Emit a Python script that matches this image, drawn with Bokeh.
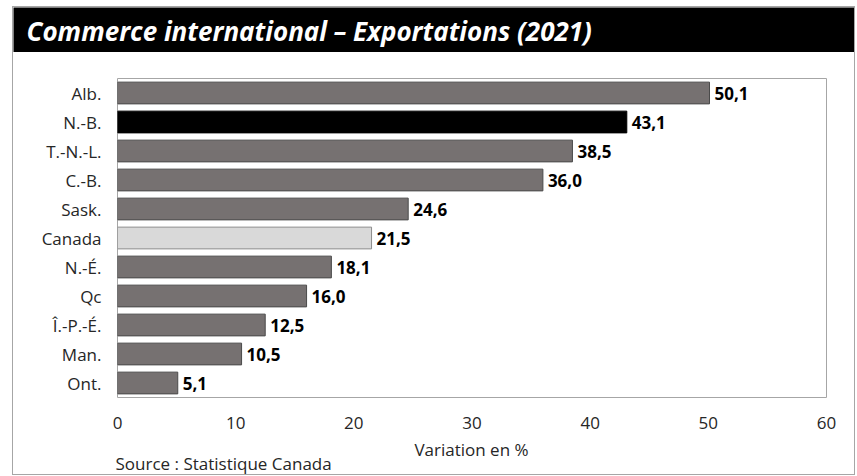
from bokeh.plotting import figure
from bokeh.models import ColumnDataSource, FactorRange, Range1d, Label, FixedTicker
from bokeh.layouts import column
from bokeh.embed import file_html
from bokeh.resources import INLINE
from bokeh.core.properties import value

# ---- data ----
provinces = ["Alb.", "N.-B.", "T.-N.-L.", "C.-B.", "Sask.", "Canada",
             "N.-É.", "Qc", "Î.-P.-É.", "Man.", "Ont."]
variation = [50.1, 43.1, 38.5, 36.0, 24.6, 21.5, 18.1, 16.0, 12.5, 10.5, 5.1]
x_ticks = [0, 10, 20, 30, 40, 50, 60]
title_text = "Commerce international – Exportations (2021)"
x_label = "Variation en %"
source_text = "Source : Statistique Canada"
highlight_dark = "N.-B."
highlight_light = "Canada"

FONT = "Open Sans"
TXT = "#262626"

fills, lines = [], []
for p_ in provinces:
    if p_ == highlight_dark:
        fills.append("#000000"); lines.append("#000000")
    elif p_ == highlight_light:
        fills.append("#d9d9d9"); lines.append("#8c8c8c")
    else:
        fills.append("#767171"); lines.append("#4a4a4a")

labels = [f"{v:.1f}".replace(".", ",") for v in variation]
src = ColumnDataSource(dict(cat=provinces, val=variation, fill=fills, line=lines, lab=labels))

W = 841


def blank(height, bg):
    f = figure(width=W, height=height, x_range=Range1d(0, 1), y_range=Range1d(0, 1),
               toolbar_location=None, output_backend="svg", min_border=0)
    f.frame_align = False
    f.axis.visible = False
    f.grid.visible = False
    f.outline_line_color = None
    f.background_fill_color = bg
    f.border_fill_color = bg
    return f


# ---- title bar ----
tb = blank(45, "black")
tb.add_layout(Label(x=13, y=22, x_units="screen", y_units="screen", text=title_text,
                    text_color="white", text_font=FONT, text_font_style="bold italic",
                    text_font_size="26px", text_baseline="middle"))

# ---- main chart ----
p = figure(width=W, height=387, y_range=FactorRange(factors=list(reversed(provinces))),
           x_range=Range1d(0, 60), toolbar_location=None, output_backend="svg",
           min_border_left=104, min_border_right=28, min_border_top=26, min_border_bottom=42)
p.frame_align = False
p.hbar(y="cat", right="val", left=0, height=0.75, source=src,
       fill_color="fill", line_color="line", line_width=1)
p.text(x="val", y="cat", text="lab", source=src, x_offset=5,
       text_font=value(FONT), text_font_style="bold", text_font_size="17px",
       text_baseline="middle", text_color="black")

p.grid.visible = False
p.outline_line_color = "#a6a6a6"
p.background_fill_color = "white"
p.border_fill_color = "white"

for ax in (p.xaxis[0], p.yaxis[0]):
    ax.axis_line_color = None
    ax.major_tick_line_color = None
    ax.minor_tick_line_color = None
    ax.major_tick_out = 0
    ax.major_tick_in = 0
    ax.minor_tick_out = 0
    ax.major_label_text_font = FONT
    ax.major_label_text_font_size = "17px"
    ax.major_label_text_color = TXT

p.xaxis.ticker = FixedTicker(ticks=x_ticks)
p.xaxis.major_label_standoff = 19
p.yaxis.major_label_standoff = 16

# ---- bottom strip: axis title + source ----
bt = blank(35, "white")
bt.add_layout(Label(x=458, y=25, x_units="screen", y_units="screen", text=x_label,
                    text_font=FONT, text_font_size="17px", text_color=TXT,
                    text_align="center", text_baseline="middle"))
bt.add_layout(Label(x=102, y=11, x_units="screen", y_units="screen", text=source_text,
                    text_font=FONT, text_font_size="17px", text_color=TXT,
                    text_baseline="middle"))

layout = column(tb, p, bt, spacing=0, margin=(6, 0, 0, 12),
                styles={"border": "1px solid #a6a6a6"})

open("out.html", "w").write(file_html(layout, INLINE))
